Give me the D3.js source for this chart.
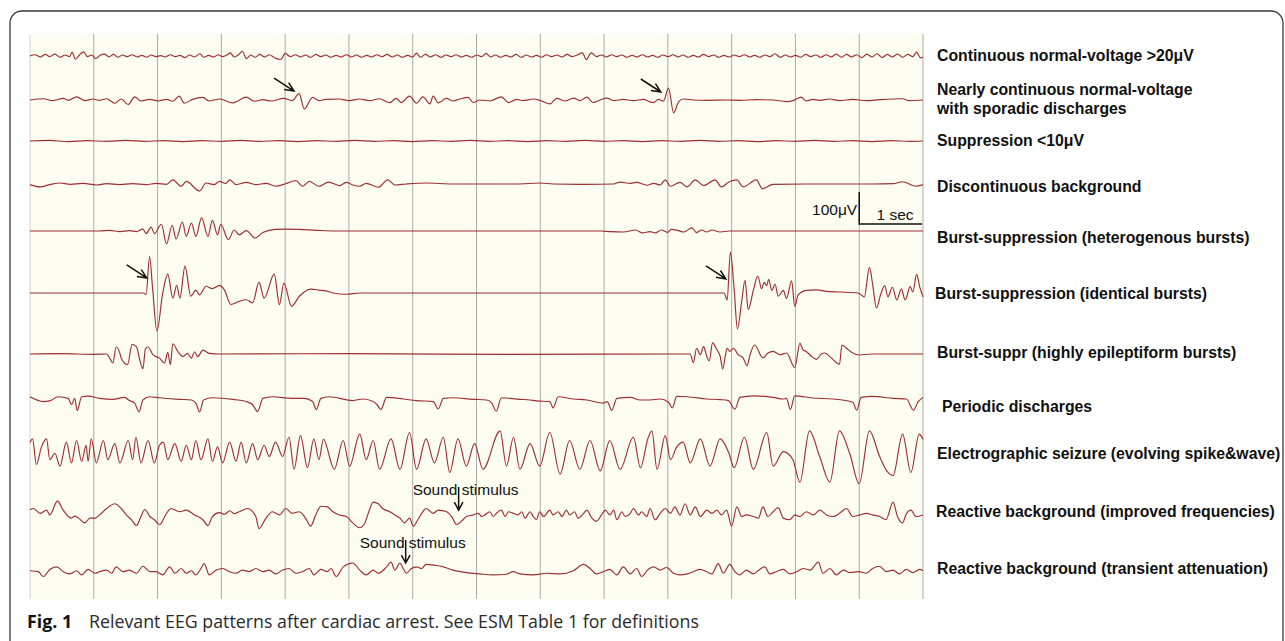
<!DOCTYPE html>
<html lang="en">
<head>
<meta charset="UTF-8">
<title>Relevant EEG patterns after cardiac arrest</title>
<script src="https://d3js.org/d3.v7.min.js"></script>
<style>
  body { margin: 0; background: #fff; }
  svg { display: block; }
  .trace { fill: none; stroke: #9c2f33; stroke-width: 1.15; stroke-linejoin: round; }
  .grid { stroke: #ababab; stroke-width: 1; }
  .label { font: bold 15.8px "Liberation Sans", Arial, sans-serif; fill: #111; }
  .note { font: 15.5px "Liberation Sans", Arial, sans-serif; fill: #111; }
  .caption { font-family: "Open Sans", sans-serif; font-size: 17.8px; fill: #2a2a2a; }
  .arrow { fill: none; stroke: #111; stroke-width: 1.5; }
</style>
</head>
<body>
<svg id="chart" width="1285" height="641"></svg>
<script>
// each trace: [seconds, microvolts] (up = positive)
const contNormal = [[0,0],[0.08,4],[0.16,-3],[0.24,5],[0.31,-2],[0.39,6],[0.47,-4],[0.55,3],[0.62,-2],[0.66,12],[0.71,-10],[0.78,4],[0.84,13],[0.90,-2],[0.97,3],[1.03,-8],[1.10,2],[1.17,6],[1.24,-3],[1.31,5],[1.38,-4],[1.45,3],[1.52,-2],[1.60,4],[1.68,-3],[1.75,2],[1.83,-4],[1.90,3],[1.97,-2],[2.05,1],[2.12,-3],[2.20,4],[2.28,-2],[2.35,2],[2.43,-5],[2.50,3],[2.58,-3],[2.66,7],[2.73,-4],[2.80,2],[2.88,-3],[2.95,4],[3.02,-2],[3.10,5],[3.14,10],[3.20,-3],[3.27,4],[3.33,15],[3.39,-8],[3.46,3],[3.53,-4],[3.60,5],[3.68,-3],[3.75,4],[3.83,-5],[3.93,-11],[4.00,8],[4.08,-2],[4.16,4],[4.24,-3],[4.32,3],[4.40,-4],[4.48,5],[4.56,-2],[4.64,3],[4.72,-4],[4.80,2],[4.88,-3],[4.96,4],[5.04,-3],[5.12,3],[5.20,-4],[5.28,2],[5.36,-3],[5.44,4],[5.52,-2],[5.60,5],[5.68,-3],[5.76,3],[5.84,-4],[5.92,2],[6.00,-3],[6.06,9],[6.12,-4],[6.20,5],[6.28,-3],[6.36,4],[6.44,-4],[6.52,3],[6.60,-2],[6.68,4],[6.76,-3],[6.84,2],[6.92,-4],[7.00,3],[7.08,-2],[7.15,8],[7.22,-3],[7.30,3],[7.38,-4],[7.46,2],[7.54,-3],[7.62,5],[7.70,-4],[7.78,3],[7.86,-3],[7.94,2],[8.02,-4],[8.10,4],[8.18,-2],[8.26,3],[8.34,-3],[8.42,5],[8.50,-2],[8.58,3],[8.66,10],[8.72,-11],[8.80,10],[8.88,-2],[8.96,3],[9.04,-3],[9.12,4],[9.20,-2],[9.28,3],[9.36,-4],[9.44,2],[9.52,-3],[9.60,4],[9.68,-3],[9.76,2],[9.84,-4],[9.92,3],[10.00,-2],[10.08,4],[10.16,-3],[10.24,3],[10.32,-4],[10.40,2],[10.48,-3],[10.56,5],[10.64,-2],[10.72,3],[10.80,-4],[10.88,2],[10.96,-3],[11.04,3],[11.12,-2],[11.20,4],[11.28,-3],[11.36,2],[11.44,-4],[11.52,3],[11.60,-2],[11.68,7],[11.76,-4],[11.84,3],[11.92,-3],[12.00,2],[12.08,-4],[12.16,5],[12.24,-2],[12.32,3],[12.40,-4],[12.48,4],[12.56,-3],[12.64,6],[12.72,-4],[12.80,5],[12.88,-3],[12.96,4],[13.04,-5],[13.12,6],[13.20,-3],[13.28,7],[13.36,-5],[13.44,5],[13.52,-3],[13.60,6],[13.68,-4],[13.76,5],[13.84,-2],[13.90,12],[13.96,-6],[14.00,-3]];

const nearlyCont = [[0,0],[0.21,4],[0.36,-2],[0.52,5],[0.60,-1],[0.73,10],[0.86,-2],[0.99,3],[1.09,-1],[1.20,4],[1.33,-10],[1.43,3],[1.54,-14],[1.64,10],[1.74,-3],[1.88,2],[2.01,-3],[2.14,2],[2.24,-4],[2.34,12],[2.42,-10],[2.55,2],[2.71,8],[2.81,-3],[2.97,3],[3.18,-9],[3.39,9],[3.52,-4],[3.65,1],[3.78,-3],[3.98,5],[4.11,-2],[4.22,20],[4.30,-28],[4.43,8],[4.53,-2],[4.64,2],[4.85,3],[5.0,-2],[5.17,3],[5.32,-2],[5.48,4],[5.64,-8],[5.74,5],[5.82,-8],[5.95,12],[6.06,-10],[6.16,10],[6.27,-12],[6.32,12],[6.40,-9],[6.53,5],[6.63,-3],[6.74,3],[6.87,8],[6.95,-8],[7.05,0],[7.21,-3],[7.39,10],[7.50,-8],[7.63,2],[7.73,-2],[7.89,3],[8.02,-3],[8.15,-12],[8.26,5],[8.39,-3],[8.52,6],[8.62,-2],[8.73,9],[8.83,-8],[8.94,0],[9.04,6],[9.15,-2],[9.30,2],[9.46,-2],[9.62,2],[9.72,-6],[9.78,-8],[9.85,2],[9.93,-3],[10.01,37],[10.09,-40],[10.17,-5],[10.24,3],[10.40,0],[10.61,-1],[10.92,0],[11.13,-1],[11.39,1],[11.65,0],[11.86,-5],[11.96,-2],[12.09,9],[12.17,-3],[12.28,2],[12.38,-1],[12.54,3],[12.69,-2],[12.90,2],[13.11,-2],[13.32,1],[13.68,4],[13.78,-2],[14.0,0]];

const suppression = [[0,0],[0.3,2],[0.6,-2],[0.9,1],[1.2,-1],[1.5,2],[1.8,-1],[2.1,1],[2.4,-2],[2.7,1],[3.0,-1],[3.3,2],[3.6,-1],[3.9,1],[4.2,-2],[4.5,1],[4.8,-1],[5.1,2],[5.4,-1],[5.7,1],[6.0,-2],[6.3,1],[6.6,-1],[6.9,2],[7.2,-1],[7.5,1],[7.8,-2],[8.1,1],[8.4,-1],[8.7,2],[9.0,-1],[9.3,1],[9.6,-2],[9.9,1],[10.2,-1],[10.5,2],[10.8,-1],[11.1,1],[11.4,-2],[11.7,1],[12.0,-1],[12.3,2],[12.6,-1],[12.9,1],[13.2,-2],[13.5,1],[13.8,-1],[14,0]];

const discontinuous = [[0,-2],[0.16,-9],[0.31,-2],[0.47,3],[0.63,-1],[0.83,2],[1.04,-3],[1.20,1],[1.41,-2],[1.61,1],[1.82,-2],[1.98,2],[2.14,-1],[2.24,13],[2.37,-7],[2.45,8],[2.66,-22],[2.76,3],[2.89,-2],[2.97,8],[3.07,2],[3.13,13],[3.23,-2],[3.39,5],[3.54,-2],[3.70,2],[3.85,-7],[4.01,1],[4.17,11],[4.27,-7],[4.38,8],[4.53,-7],[4.68,6],[4.85,-5],[4.96,5],[5.06,-3],[5.17,-7],[5.27,2],[5.46,-10],[5.61,13],[5.72,-3],[5.90,0],[6.21,3],[6.63,0],[7.16,0],[7.68,0],[7.99,3],[8.20,0],[8.73,-1],[9.15,0],[9.25,6],[9.41,2],[9.51,5],[9.67,-4],[9.78,2],[9.88,-3],[9.96,13],[10.04,-7],[10.19,5],[10.30,-9],[10.43,13],[10.56,-5],[10.74,13],[10.84,-9],[10.97,8],[11.08,13],[11.18,-9],[11.39,13],[11.48,-15],[11.65,-1],[12.17,0],[12.69,0],[13.21,0],[13.53,1],[13.68,7],[13.89,-7],[14.0,-2]];

const burstHetero = [[0,0],[1.09,0],[1.25,2],[1.41,-2],[1.56,1],[1.67,-2],[1.77,6],[1.82,-8],[1.90,12],[1.95,-8],[2.06,21],[2.14,-40],[2.23,18],[2.29,-25],[2.39,28],[2.45,-17],[2.53,25],[2.60,-17],[2.69,41],[2.79,-17],[2.86,33],[2.94,-12],[2.99,21],[3.11,-27],[3.20,3],[3.28,-12],[3.39,1],[3.53,-22],[3.65,-5],[3.85,5],[4.01,6],[4.22,5],[4.5,2],[4.8,0],[8.95,0],[9.1,-2],[9.3,-3],[9.5,3],[9.6,-6],[9.72,-2],[9.8,-6],[9.9,3],[10.0,-4],[10.05,5],[10.15,2],[10.25,-3],[10.38,10],[10.45,-5],[10.53,3],[10.61,-3],[10.69,3],[10.82,-3],[10.97,0],[14,0]];

const burstIdent = [[0,0],[1.78,0],[1.82,-5],[1.875,114],[1.92,20],[1.99,-119],[2.08,-1],[2.16,59],[2.24,-16],[2.30,24],[2.35,-16],[2.43,84],[2.52,-10],[2.60,9],[2.66,-6],[2.76,21],[2.86,14],[2.97,24],[3.05,9],[3.15,-36],[3.28,-26],[3.39,-21],[3.49,-31],[3.59,34],[3.67,-16],[3.83,59],[3.91,-36],[3.98,31],[4.10,-41],[4.22,-11],[4.40,12],[4.53,9],[4.69,4],[4.75,0],[4.96,-4],[5.17,0],[10.88,0],[10.93,-22],[10.98,128],[11.04,10],[11.09,-112],[11.16,-22],[11.21,40],[11.26,-52],[11.34,8],[11.41,53],[11.47,13],[11.51,33],[11.55,23],[11.58,43],[11.63,8],[11.68,28],[11.73,-10],[11.81,8],[11.86,-17],[11.94,38],[11.99,-42],[12.04,-7],[12.17,8],[12.33,10],[12.49,5],[12.69,3],[12.98,0],[13.08,-12],[13.16,80],[13.21,28],[13.27,-47],[13.34,-2],[13.40,23],[13.45,-12],[13.52,18],[13.59,-22],[13.66,13],[13.72,-22],[13.80,20],[13.84,3],[13.90,58],[13.95,18],[14.0,-12]];

const burstEpi = [[0,0],[0.5,1],[1.0,-1],[1.2,0],[1.25,-13],[1.30,-28],[1.35,22],[1.41,2],[1.43,-13],[1.53,-33],[1.60,30],[1.67,22],[1.72,-18],[1.77,-46],[1.81,17],[1.85,22],[1.93,-3],[2.03,-13],[2.11,-28],[2.16,5],[2.20,-33],[2.24,32],[2.32,7],[2.40,-8],[2.47,2],[2.53,-13],[2.58,7],[2.63,-8],[2.71,12],[2.81,2],[2.97,0],[5.0,1],[7.5,-1],[10.35,0],[10.40,-27],[10.45,18],[10.51,-2],[10.56,23],[10.61,-7],[10.65,-22],[10.70,35],[10.77,13],[10.82,-7],[10.86,-47],[10.90,-7],[10.93,18],[10.97,8],[11.03,18],[11.10,-2],[11.18,-12],[11.24,-37],[11.29,-2],[11.36,28],[11.49,-12],[11.57,3],[11.65,8],[11.76,-2],[11.86,3],[11.99,-42],[12.07,33],[12.12,13],[12.17,8],[12.25,-7],[12.33,-17],[12.41,1],[12.46,3],[12.56,-12],[12.69,-32],[12.73,28],[12.80,18],[12.90,3],[13.0,-3],[13.2,0],[14,0]];

const periodic = [[0,7],[0.21,-8],[0.31,-6],[0.44,7],[0.60,2],[0.65,-18],[0.70,2],[0.74,-36],[0.81,7],[0.91,9],[1.09,2],[1.30,-1],[1.48,5],[1.56,-5],[1.64,-13],[1.71,-40],[1.77,-3],[1.88,7],[2.03,4],[2.34,-1],[2.53,-3],[2.60,-13],[2.66,-40],[2.72,-3],[2.86,4],[3.18,-1],[3.39,-8],[3.49,-18],[3.57,-39],[3.65,2],[3.80,7],[4.11,2],[4.30,2],[4.43,-8],[4.49,-33],[4.56,2],[4.69,7],[5.06,-5],[5.22,0],[5.38,-8],[5.44,-18],[5.50,-33],[5.59,5],[5.85,0],[6.06,-5],[6.32,-8],[6.40,-31],[6.48,2],[6.63,4],[6.95,-1],[7.16,-3],[7.24,-13],[7.31,-38],[7.39,4],[7.68,-1],[7.84,-3],[7.94,-6],[8.15,-8],[8.20,-28],[8.28,7],[8.52,0],[8.73,-3],[8.99,-13],[9.05,-8],[9.12,-36],[9.20,2],[9.41,5],[9.57,-3],[9.72,-3],[9.88,0],[10.01,-10],[10.07,-28],[10.14,8],[10.30,7],[10.61,0],[10.82,-2],[10.95,-5],[11.05,-32],[11.13,5],[11.34,10],[11.65,5],[11.81,0],[11.86,2],[11.92,-33],[11.99,10],[12.28,3],[12.59,0],[12.90,-10],[12.96,-35],[13.03,5],[13.21,8],[13.53,2],[13.74,0],[13.85,-35],[13.92,-10],[14.0,5]];

const seizure = [[0,30],[0.04,41],[0.10,-39],[0.18,16],[0.26,41],[0.31,-24],[0.39,-4],[0.47,-44],[0.57,31],[0.65,-34],[0.73,36],[0.81,-29],[0.88,21],[0.91,-29],[0.96,41],[1.04,-34],[1.15,36],[1.22,-24],[1.33,26],[1.41,-34],[1.54,36],[1.61,-24],[1.66,46],[1.74,-34],[1.85,36],[1.95,-34],[2.03,21],[2.09,31],[2.16,-24],[2.27,26],[2.37,-29],[2.45,21],[2.53,-24],[2.60,36],[2.68,-24],[2.79,41],[2.86,-29],[2.94,16],[3.02,-34],[3.13,31],[3.23,-29],[3.31,31],[3.39,-34],[3.49,26],[3.57,-24],[3.67,21],[3.75,-14],[3.85,31],[3.96,-14],[4.06,46],[4.14,-54],[4.24,51],[4.35,-49],[4.45,41],[4.53,-24],[4.60,40],[4.77,-54],[4.91,36],[5.01,-44],[5.17,56],[5.27,-24],[5.38,36],[5.48,-54],[5.66,41],[5.80,-54],[5.95,61],[6.06,-54],[6.21,41],[6.34,-34],[6.48,46],[6.58,-64],[6.71,41],[6.84,-44],[6.97,26],[7.10,-54],[7.37,66],[7.47,-44],[7.58,46],[7.68,-54],[7.84,26],[7.99,-44],[8.15,61],[8.31,-69],[8.46,36],[8.62,-54],[8.78,36],[8.94,-59],[9.09,36],[9.25,-54],[9.46,46],[9.57,-49],[9.69,44],[9.75,66],[9.83,-54],[9.96,51],[10.04,-24],[10.14,16],[10.24,31],[10.35,-34],[10.51,41],[10.66,-44],[10.82,41],[10.95,0],[11.04,-49],[11.20,46],[11.34,-54],[11.55,61],[11.65,-44],[11.81,1],[11.96,-24],[12.07,-94],[12.22,66],[12.38,-14],[12.54,-94],[12.69,66],[12.85,-4],[13.0,-99],[13.16,66],[13.32,-14],[13.45,-64],[13.53,-74],[13.68,56],[13.81,-64],[13.94,56],[14.0,40]];

const reactiveFreq = [[0,10],[0.05,14],[0.16,-1],[0.26,9],[0.31,-6],[0.43,37],[0.52,9],[0.60,-11],[0.65,-16],[0.70,-10],[0.76,-16],[0.86,-31],[0.94,-16],[1.02,-16],[1.09,-6],[1.20,14],[1.33,29],[1.43,14],[1.51,-6],[1.59,-21],[1.67,-39],[1.74,-11],[1.80,11],[1.88,-11],[1.95,-21],[2.03,-36],[2.14,-1],[2.21,14],[2.34,4],[2.45,9],[2.58,-6],[2.71,-21],[2.79,-39],[2.86,-11],[2.97,1],[3.05,-4],[3.13,7],[3.20,-2],[3.28,4],[3.41,14],[3.54,-11],[3.59,-49],[3.70,-16],[3.80,4],[3.91,-6],[4.01,14],[4.11,-1],[4.22,4],[4.32,-16],[4.40,-41],[4.48,-6],[4.56,21],[4.66,19],[4.75,4],[4.85,-6],[4.96,-11],[5.06,-31],[5.17,-46],[5.25,-31],[5.32,9],[5.38,34],[5.46,29],[5.53,14],[5.64,4],[5.72,-6],[5.80,-16],[5.87,-31],[5.95,-16],[6.01,-41],[6.08,-21],[6.16,4],[6.21,14],[6.32,-1],[6.40,9],[6.53,4],[6.61,-11],[6.69,-36],[6.79,-21],[6.84,-11],[6.95,-6],[7.03,-1],[7.08,-11],[7.13,-6],[7.21,4],[7.26,-11],[7.31,-1],[7.39,9],[7.45,-11],[7.50,4],[7.58,-1],[7.65,-6],[7.71,4],[7.76,-16],[7.84,4],[7.89,-11],[7.94,-21],[7.99,4],[8.05,-11],[8.15,9],[8.20,-6],[8.28,4],[8.34,-11],[8.41,9],[8.46,-6],[8.54,4],[8.59,-16],[8.68,-1],[8.73,9],[8.81,-16],[8.88,-26],[8.96,-6],[9.02,9],[9.09,-6],[9.15,9],[9.20,-21],[9.28,4],[9.33,-11],[9.41,-1],[9.46,14],[9.54,-6],[9.59,4],[9.67,-11],[9.72,14],[9.80,-21],[9.88,-1],[9.96,14],[10.04,-1],[10.11,19],[10.19,-6],[10.27,29],[10.35,-6],[10.43,19],[10.51,-11],[10.61,9],[10.69,-1],[10.77,9],[10.84,-6],[10.92,9],[11.0,-41],[11.08,19],[11.16,-11],[11.23,-6],[11.34,-11],[11.42,-16],[11.49,19],[11.57,-11],[11.65,4],[11.73,17],[11.81,-16],[11.91,-21],[11.99,-6],[12.07,-11],[12.17,4],[12.28,-6],[12.38,9],[12.49,-6],[12.59,-11],[12.69,-1],[12.80,14],[12.90,-11],[13.01,-6],[13.11,-1],[13.21,-6],[13.32,-11],[13.42,-21],[13.53,34],[13.60,-11],[13.68,-31],[13.73,-6],[13.81,9],[13.89,-11],[14.0,-6]];

const reactiveAtten = [[0,4],[0.13,1],[0.21,-14],[0.31,8],[0.42,16],[0.52,1],[0.63,-6],[0.73,4],[0.81,-9],[0.91,8],[1.02,-4],[1.09,1],[1.20,6],[1.28,-4],[1.35,16],[1.46,1],[1.56,6],[1.67,-4],[1.77,18],[1.88,1],[1.98,1],[2.08,-9],[2.19,16],[2.27,-4],[2.37,11],[2.45,-4],[2.53,4],[2.60,-9],[2.68,11],[2.73,26],[2.81,-9],[2.92,6],[3.02,11],[3.13,1],[3.23,-4],[3.33,6],[3.44,1],[3.54,11],[3.65,1],[3.75,6],[3.85,-6],[3.96,6],[4.06,11],[4.17,-4],[4.27,1],[4.38,11],[4.45,-9],[4.56,8],[4.66,1],[4.72,11],[4.80,-14],[4.91,16],[5.06,28],[5.17,6],[5.27,-9],[5.38,6],[5.46,-4],[5.59,16],[5.66,31],[5.72,6],[5.80,28],[5.85,11],[5.90,-4],[5.98,11],[6.06,16],[6.14,11],[6.21,24],[6.35,21],[6.48,16],[6.63,6],[6.84,-2],[7.05,-6],[7.26,-9],[7.47,-7],[7.57,1],[7.68,-6],[7.89,-9],[8.10,-4],[8.31,-6],[8.52,4],[8.68,24],[8.78,11],[8.88,-6],[8.99,1],[9.09,8],[9.20,-9],[9.30,16],[9.41,-6],[9.51,11],[9.59,-14],[9.69,8],[9.78,16],[9.88,6],[9.98,14],[10.09,-4],[10.19,-9],[10.30,-6],[10.40,1],[10.50,8],[10.61,1],[10.69,-6],[10.79,26],[10.87,-4],[10.97,24],[11.05,1],[11.13,-9],[11.23,6],[11.34,-6],[11.44,8],[11.52,16],[11.60,-6],[11.70,1],[11.81,8],[11.91,-6],[12.02,1],[12.12,11],[12.23,6],[12.36,31],[12.43,-4],[12.54,11],[12.64,-9],[12.75,6],[12.85,-2],[13.0,1],[13.11,-4],[13.21,11],[13.32,18],[13.42,1],[13.53,6],[13.63,-6],[13.74,8],[13.84,-2],[13.95,8],[14.0,4]];

const rowLabels = [
  ["Continuous normal-voltage >20μV"],
  ["Nearly continuous normal-voltage", "with sporadic discharges"],
  ["Suppression <10μV"],
  ["Discontinuous background"],
  ["Burst-suppression (heterogenous bursts)"],
  ["Burst-suppression (identical bursts)"],
  ["Burst-suppr (highly epileptiform bursts)"],
  ["Periodic discharges"],
  ["Electrographic seizure (evolving spike&wave)"],
  ["Reactive background (improved frequencies)"],
  ["Reactive background (transient attenuation)"]
];
const rowData = [contNormal, nearlyCont, suppression, discontinuous, burstHetero,
  burstIdent, burstEpi, periodic, seizure, reactiveFreq, reactiveAtten];

// arrows pointing at discharges: [row, seconds, microvolts at tip]
const pointerArrows = [[1, 4.14, 28], [1, 9.89, 25], [5, 1.83, 47], [5, 10.91, 44]];
// sound stimulus markers: [row, seconds, microvolts at tip]
const stimuli = [[9, 6.72, 9], [10, 5.89, 28]];
const stimulusText = "Sound stimulus";
const captionLead = "Fig. 1";
const captionText = "Relevant EEG patterns after cardiac arrest. See ESM Table 1 for definitions";

// layout
const rowY = [56, 100, 141, 184, 231, 293, 354, 399, 452, 513, 572];
const labelY = [55, 98.5, 140, 186, 237, 293, 352, 406, 453, 511, 568];
const labelDx = [0, 0, 0, 0, 0, -2, 0, 5, 0, -1, 0];

const svg = d3.select("#chart");
const x = d3.scaleLinear().domain([0, 14]).range([30, 923]);
const y = d3.scaleLinear().domain([-100, 100]).range([32, -32]);
const line = d3.line()
  .x(d => x(d[0]))
  .y(d => y(d[1]))
  .curve(d3.curveMonotoneX);

// outer frame (rounded, open at the bottom)
svg.append("path")
  .attr("d", "M10,660 V23 A12,12 0 0 1 22,11 H1271 A12,12 0 0 1 1283,23 V660")
  .attr("fill", "none")
  .attr("stroke", "#3a3a3a")
  .attr("stroke-width", 1.3);

svg.append("rect")
  .attr("x", x(0)).attr("y", 34)
  .attr("width", x(14) - x(0)).attr("height", 565)
  .attr("fill", "#fdfdf1");

svg.append("g").selectAll("line")
  .data(x.ticks(14))
  .join("line")
  .attr("class", "grid")
  .attr("x1", d => x(d)).attr("x2", d => x(d))
  .attr("y1", 34).attr("y2", 599)
  .attr("stroke-opacity", d => d === 0 ? 0.5 : 1);

const rows = svg.append("g").selectAll("g")
  .data(rowData)
  .join("g")
  .attr("transform", (d, i) => `translate(0,${rowY[i]})`);

rows.append("path")
  .attr("class", "trace")
  .attr("d", d => line(d));

// labels
const labels = svg.append("g").selectAll("text")
  .data(rowLabels)
  .join("text")
  .attr("class", "label")
  .attr("x", (d, i) => 937 + labelDx[i])
  .attr("y", (d, i) => labelY[i] - (d.length - 1) * 9.5);
labels.selectAll("tspan")
  .data(d => d)
  .join("tspan")
  .attr("x", function() { return this.parentNode.getAttribute("x"); })
  .attr("dy", (d, i) => i === 0 ? "0.36em" : "19px")
  .text(d => d);

// scale bar: 100 µV vertical, 1 s horizontal
const barX = x(13), barY = 224;
svg.append("path")
  .attr("d", `M${barX},${barY + y(100)} V${barY} H${x(14) - 1}`)
  .attr("fill", "none").attr("stroke", "#111").attr("stroke-width", 1.5);
svg.append("text").attr("class", "note")
  .attr("x", barX - 2).attr("y", 215).attr("text-anchor", "end").text("100μV");
svg.append("text").attr("class", "note")
  .attr("x", (barX + x(14)) / 2 + 4).attr("y", 220).attr("text-anchor", "middle").text("1 sec");

function arrowHead(tx, ty, ang, len, spread) {
  const a1 = ang + Math.PI - spread, a2 = ang + Math.PI + spread;
  return `M${tx + len * Math.cos(a1)},${ty + len * Math.sin(a1)} L${tx},${ty} L${tx + len * Math.cos(a2)},${ty + len * Math.sin(a2)}`;
}

// diagonal pointer arrows
pointerArrows.forEach(([r, t, v]) => {
  const tx = x(t), ty = rowY[r] + y(v);
  const sx = tx - 20, sy = ty - 13;
  const ang = Math.atan2(ty - sy, tx - sx);
  svg.append("path").attr("class", "arrow")
    .attr("d", `M${sx},${sy} L${tx},${ty} ` + arrowHead(tx, ty, ang, 10, 0.42));
});

// sound stimulus arrows + text
stimuli.forEach(([r, t, v]) => {
  const tx = x(t), ty = rowY[r] + y(v);
  svg.append("path").attr("class", "arrow")
    .attr("stroke-width", 1.3)
    .attr("d", `M${tx},${ty - 23} L${tx},${ty} ` + arrowHead(tx, ty, Math.PI / 2, 9, 0.5));
  svg.append("text").attr("class", "note")
    .attr("x", tx - 46).attr("y", ty - 15)
    .text(stimulusText);
});

// caption
const cap = svg.append("text").attr("class", "caption").attr("x", 27).attr("y", 628);
cap.append("tspan").attr("font-weight", "bold").attr("fill", "#111").text(captionLead);
cap.append("tspan").attr("x", 89).text(captionText);
</script>
</body>
</html>
